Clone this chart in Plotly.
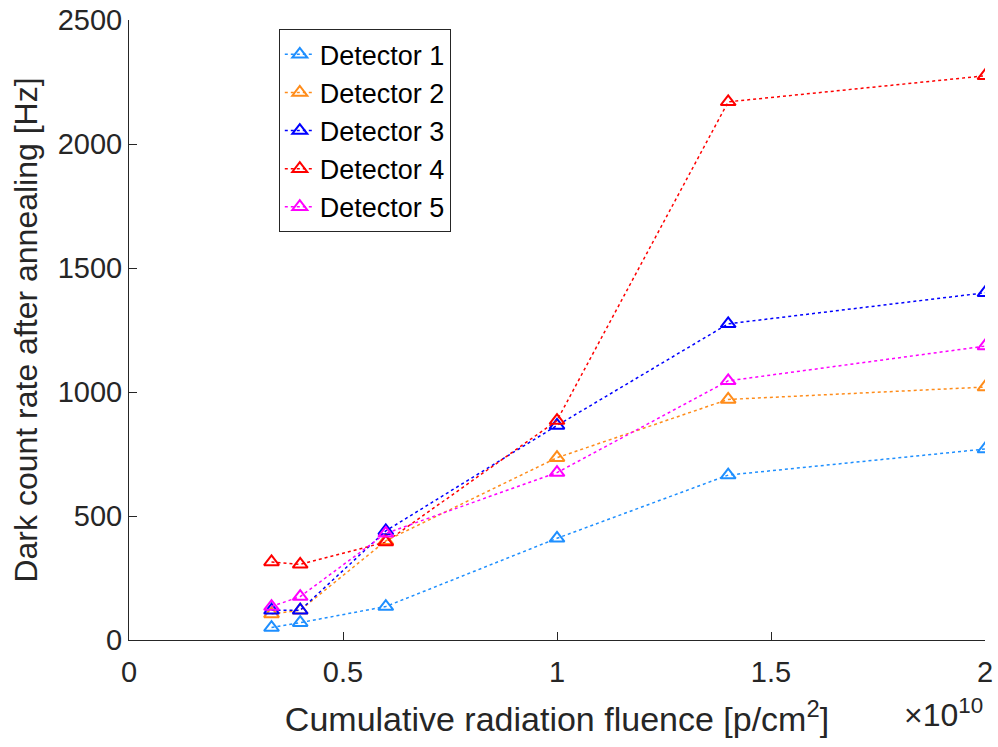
import plotly.graph_objects as go

fluence = [0.333e10, 0.4e10, 0.6e10, 1.0e10, 1.4e10, 2.0e10]
det1 = [50, 70, 135, 410, 665, 770]
det2 = [105, 120, 400, 735, 970, 1020]
det3 = [120, 120, 440, 865, 1275, 1400]
det4 = [315, 305, 395, 885, 2170, 2275]
det5 = [135, 175, 430, 675, 1045, 1185]
names = ["Detector 1", "Detector 2", "Detector 3", "Detector 4", "Detector 5"]
colors = ["#1E8FFF", "#FF8C1A", "#0000FF", "#FF0000", "#FF00FF"]
x_tickvals = [0, 0.5e10, 1.0e10, 1.5e10, 2.0e10]
x_ticktext = ["0", "0.5", "1", "1.5", "2"]
y_tickvals = [0, 500, 1000, 1500, 2000, 2500]

fig = go.Figure()
for name, ys, c in zip(names, [det1, det2, det3, det4, det5], colors):
    fig.add_trace(go.Scatter(
        x=fluence, y=ys, name=name, mode="lines+markers",
        line=dict(color=c, width=1.5, dash="dot"),
        marker=dict(symbol="triangle-up-open", size=13, color=c, line=dict(width=2, color=c)),
    ))

font = "Liberation Sans, Arial, Helvetica, sans-serif"
fig.update_layout(
    width=998, height=747,
    margin=dict(l=129, r=13, t=20, b=107),
    paper_bgcolor="white", plot_bgcolor="white",
    font=dict(family=font, size=29, color="#262626"),
    showlegend=True,
    legend=dict(
        x=0.175, y=0.985, xanchor="left", yanchor="top",
        bgcolor="white", bordercolor="#262626", borderwidth=1,
        font=dict(size=27, color="black"), itemwidth=30,
    ),
    xaxis=dict(
        range=[0, 2.0e10], tickvals=x_tickvals, ticktext=x_ticktext,
        showgrid=False, zeroline=False, showline=True, linecolor="#262626", linewidth=1,
        ticks="inside", ticklen=8, tickcolor="#262626", automargin=False,
        ticklabelstandoff=6,
        title=dict(text="Cumulative radiation fluence [p/cm<sup>2</sup>]", font=dict(size=34), standoff=20),
    ),
    yaxis=dict(
        range=[0, 2500], tickvals=y_tickvals,
        showgrid=False, zeroline=False, showline=True, linecolor="#262626", linewidth=1,
        ticks="inside", ticklen=8, tickcolor="#262626", automargin=False,
        title=dict(text="Dark count rate after annealing [Hz]", font=dict(size=32), standoff=10),
    ),
)
fig.add_annotation(
    xref="paper", yref="paper", x=1.0, y=-0.118, xanchor="right", yanchor="middle",
    text="×10<sup>10</sup>", showarrow=False, font=dict(size=32, color="#262626"),
)
fig.write_html("out.html")
